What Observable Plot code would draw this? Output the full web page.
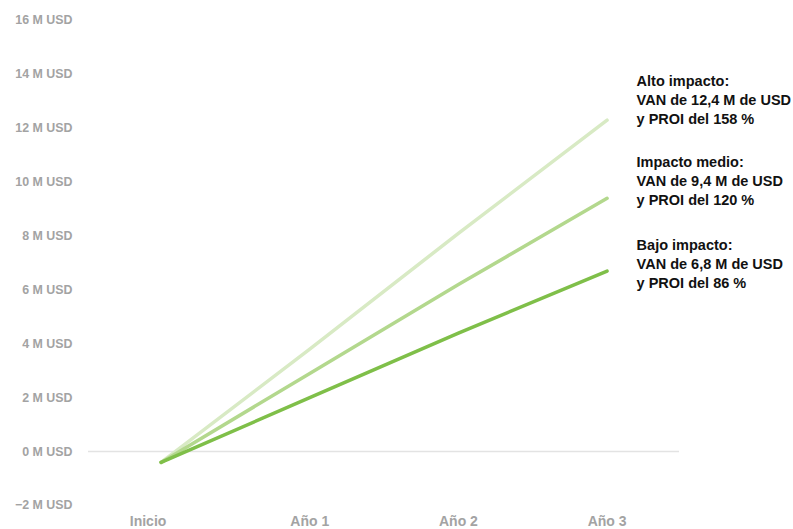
<!DOCTYPE html>
<html>
<head>
<meta charset="utf-8">
<script src="https://cdn.jsdelivr.net/npm/d3@7"></script>
<script src="https://cdn.jsdelivr.net/npm/@observablehq/plot@0.6"></script>
<style>
  html, body { margin: 0; padding: 0; background: #fff; }
  #chart { width: 793px; height: 529px; }
</style>
</head>
<body>
<div id="chart"></div>
<script>
const categories = ["Inicio", "Año 1", "Año 2", "Año 3"];
const seriesNames = ["Alto impacto", "Impacto medio", "Bajo impacto"];
const altoValues = [-0.4, 3.8, 8.1, 12.3];
const medioValues = [-0.4, 2.9, 6.2, 9.4];
const bajoValues = [-0.4, 2.0, 4.4, 6.7];
const seriesColors = ["#d8eac4", "#b3d88d", "#7fbf49"];
const yTicks = [-2, 0, 2, 4, 6, 8, 10, 12, 14, 16];
const annotationTexts = [
  "Alto impacto:\nVAN de 12,4 M de USD\ny PROI del 158 %",
  "Impacto medio:\nVAN de 9,4 M de USD\ny PROI del 120 %",
  "Bajo impacto:\nVAN de 6,8 M de USD\ny PROI del 86 %"
];
const annotationY = [13.1, 10.07, 7.0];

const allValues = [altoValues, medioValues, bajoValues];
const rows = [];
allValues.forEach((vals, s) => {
  vals.forEach((v, i) => rows.push({series: seriesNames[s], xi: i, value: v}));
});
const annots = annotationTexts.map((t, i) => ({text: t, y: annotationY[i], xi: categories.length - 1}));
const catIdx = categories.map((c, i) => i);

const chart = Plot.plot({
  width: 793,
  height: 529,
  marginLeft: 88,
  marginRight: 114,
  marginTop: 20,
  marginBottom: 24,
  style: {fontFamily: "'Liberation Sans', Arial, sans-serif", background: "#fff"},
  x: {domain: [-0.488, 3.487], axis: null},
  y: {domain: [-2, 16], axis: null},
  color: {domain: seriesNames, range: seriesColors},
  marks: [
    Plot.ruleY([0], {stroke: "#e3e3e3", strokeWidth: 1.5}),
    Plot.axisY(yTicks, {
      tickSize: 0, tickPadding: 16, fontSize: 12.4, fontWeight: "bold", fill: "#a3a3a3",
      tickFormat: d => `${d < 0 ? "\u2212" + Math.abs(d) : d} M USD`
    }),
    Plot.axisX(catIdx.slice(0, 1), {
      anchor: "bottom", tickSize: 0, tickPadding: 11, dx: -13, fontSize: 14, fontWeight: "bold", fill: "#a3a3a3",
      tickFormat: i => categories[i], label: null
    }),
    Plot.axisX(catIdx.slice(1), {
      anchor: "bottom", tickSize: 0, tickPadding: 11, fontSize: 14, fontWeight: "bold", fill: "#a3a3a3",
      tickFormat: i => categories[i], label: null
    }),
    Plot.line(rows, {
      x: "xi", y: "value", z: "series", stroke: "series",
      strokeWidth: 3.5, strokeLinecap: "round"
    }),
    Plot.text(annots, {
      x: "xi", y: "y", text: "text", dx: 29.5, textAnchor: "start",
      lineAnchor: "middle", lineHeight: 1.31, fontSize: 14.5, fontWeight: "bold", fill: "#111"
    })
  ]
});
document.getElementById("chart").appendChild(chart);
</script>
</body>
</html>
